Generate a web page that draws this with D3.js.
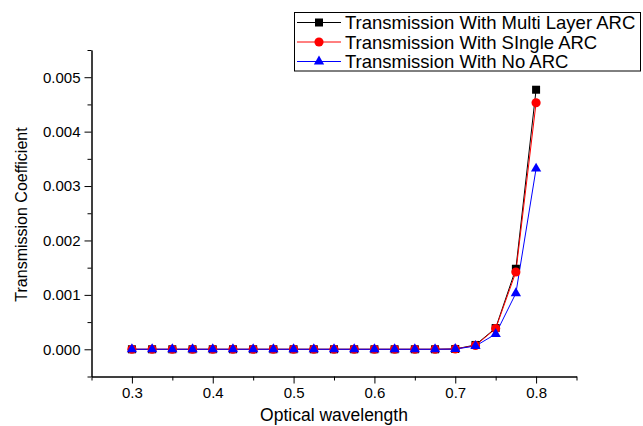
<!DOCTYPE html>
<html>
<head>
<meta charset="utf-8">
<script src="https://cdn.jsdelivr.net/npm/d3@7"></script>
<style>
  body { margin: 0; background: #fff; }
  svg { display: block; font-family: "Liberation Sans", Arial, sans-serif; }
  .axis path, .axis line { stroke: #000; stroke-width: 1; }
  .axis text { font-size: 15px; fill: #000; font-family: "Liberation Sans", Arial, sans-serif; }
</style>
</head>
<body>
<div class="chart"></div>
<script>
'use strict';
(function() {
  // Data
  var wavelength = [0.3, 0.325, 0.35, 0.375, 0.4, 0.425, 0.45, 0.475, 0.5, 0.525, 0.55,
    0.575, 0.6, 0.625, 0.65, 0.675, 0.7, 0.725, 0.75, 0.775, 0.8];
  var multiLayer = [0, 0, 0, 0, 0, 0, 0, 0, 0, 0, 0, 0, 0, 0, 0, 0, 0.000005, 0.00008, 0.00039, 0.00148, 0.00477];
  var singleArc = [0, 0, 0, 0, 0, 0, 0, 0, 0, 0, 0, 0, 0, 0, 0, 0, 0.000005, 0.00007, 0.00038, 0.00142, 0.00453];
  var noArc = [0, 0, 0, 0, 0, 0, 0, 0, 0, 0, 0, 0, 0, 0, 0, 0, 0.000004, 0.00006, 0.00028, 0.00103, 0.00332];
  var seriesNames = ['Transmission With Multi Layer ARC', 'Transmission With SIngle ARC', 'Transmission With No ARC'];
  var xTicks = [0.3, 0.4, 0.5, 0.6, 0.7, 0.8];
  var xMinorTicks = [0.25, 0.35, 0.45, 0.55, 0.65, 0.75, 0.85];
  var yTicks = [0, 0.001, 0.002, 0.003, 0.004, 0.005];
  var yMinorTicks = [-0.0005, 0.0005, 0.0015, 0.0025, 0.0035, 0.0045, 0.0055];

  // Size
  var w = 643;
  var h = 426;
  var left = 91.5;
  var right = 576.5;
  var top = 50;
  var bottom = 376.5;

  var series = [
    { name: seriesNames[0], values: multiLayer, color: '#000000', symbol: d3.symbolSquare, size: 64 },
    { name: seriesNames[1], values: singleArc, color: '#ff0000', symbol: d3.symbolCircle, size: 66 },
    { name: seriesNames[2], values: noArc, color: '#0000ff', symbol: d3.symbolTriangle, size: 46 }
  ];

  var xScale = d3.scaleLinear().domain([0.25, 0.85]).range([left, right]);
  var yScale = d3.scaleLinear().domain([-0.0005, 0.0055]).range([bottom, top]);

  var svg = d3.select('.chart')
    .append('svg')
    .attr('width', w)
    .attr('height', h);

  // X axis
  svg.append('g')
    .attr('class', 'axis')
    .attr('transform', 'translate(0,' + bottom + ')')
    .call(d3.axisBottom(xScale).tickValues(xTicks).tickFormat(d3.format('.1f'))
      .tickSize(7).tickSizeOuter(0).tickPadding(4));
  svg.append('g')
    .attr('class', 'axis')
    .attr('transform', 'translate(0,' + bottom + ')')
    .call(d3.axisBottom(xScale).tickValues(xMinorTicks).tickFormat('')
      .tickSize(4).tickSizeOuter(0));

  // Y axis
  svg.append('g')
    .attr('class', 'axis')
    .attr('transform', 'translate(' + left + ',0)')
    .call(d3.axisLeft(yScale).tickValues(yTicks).tickFormat(d3.format('.3f'))
      .tickSize(7).tickSizeOuter(0).tickPadding(4));
  svg.append('g')
    .attr('class', 'axis')
    .attr('transform', 'translate(' + left + ',0)')
    .call(d3.axisLeft(yScale).tickValues(yMinorTicks).tickFormat('')
      .tickSize(4).tickSizeOuter(0));

  // Axis titles
  svg.append('text')
    .attr('x', (xScale(0.3) + xScale(0.8)) / 2)
    .attr('y', 421)
    .attr('text-anchor', 'middle')
    .style('font-size', '17.5px')
    .text('Optical wavelength');

  svg.append('text')
    .attr('transform', 'translate(27,' + 214.5 + ') rotate(-90)')
    .attr('text-anchor', 'middle')
    .style('font-size', '16px')
    .text('Transmission Coefficient');

  // Lines and markers
  var line = d3.line()
    .x(function(d, i) { return xScale(wavelength[i]); })
    .y(function(d) { return yScale(d); });

  series.forEach(function(s) {
    svg.append('path')
      .datum(s.values)
      .attr('d', line)
      .attr('fill', 'none')
      .attr('stroke', s.color)
      .attr('stroke-width', 1);
  });

  series.forEach(function(s) {
    svg.append('g')
      .selectAll('path')
      .data(s.values)
      .enter()
      .append('path')
      .attr('d', d3.symbol().type(s.symbol).size(s.size))
      .attr('transform', function(d, i) {
        return 'translate(' + xScale(wavelength[i]) + ',' + yScale(d) + ')';
      })
      .attr('fill', s.color);
  });

  // Legend
  var legend = svg.append('g').attr('class', 'legend');
  legend.append('rect')
    .attr('x', 294.5)
    .attr('y', 12.5)
    .attr('width', 346)
    .attr('height', 58.5)
    .attr('fill', '#fff')
    .attr('stroke', '#000')
    .attr('stroke-width', 1);

  series.forEach(function(s, i) {
    var yy = 22.5 + i * 19.5;
    legend.append('line')
      .attr('x1', 297).attr('x2', 341)
      .attr('y1', yy).attr('y2', yy)
      .attr('stroke', s.color)
      .attr('stroke-width', 1);
    legend.append('path')
      .attr('d', d3.symbol().type(s.symbol).size(s.size))
      .attr('transform', 'translate(319,' + yy + ')')
      .attr('fill', s.color);
    legend.append('text')
      .attr('x', 345)
      .attr('y', yy + 6.5)
      .style('font-size', '18.5px')
      .text(s.name);
  });
})();
</script>
</body>
</html>
